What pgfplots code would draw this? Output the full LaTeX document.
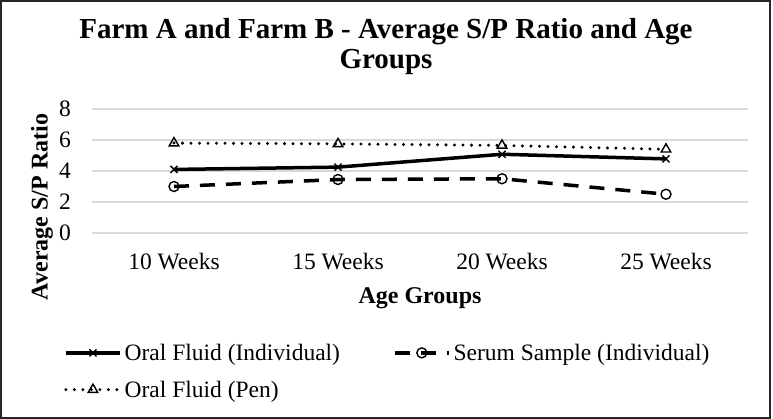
\documentclass[border=0pt]{standalone}
\usepackage{fontspec}
\setmainfont{Liberation Serif}
\usepackage{pgfplots}
\pgfplotsset{compat=1.18}
\begin{document}
\begin{tikzpicture}[x=1pt,y=1pt]
  \useasboundingbox (0,0) rectangle (773,419);
  % outer frame of the chart
  \draw[line width=1.5pt, black!85] (1,1) rectangle (770,418);
  \node[font=\bfseries\fontsize{29}{30}\selectfont, anchor=base] at (386,380)
    {Farm A and Farm B - Average S/P Ratio and Age};
  \node[font=\bfseries\fontsize{29}{30}\selectfont, anchor=base] at (386,350) {Groups};
  \begin{axis}[
    at={(92pt,186pt)},
    anchor=south west,
    scale only axis,
    width=656pt,
    height=124pt,
    xmin=-0.5, xmax=3.5,
    ymin=0, ymax=8,
    ytick={0,2,4,6,8},
    xtick={0,1,2,3},
    xticklabels={10 Weeks,15 Weeks,20 Weeks,25 Weeks},
    ymajorgrids,
    grid style={line width=1.3pt, black!15},
    axis line style={draw=none},
    major tick style={draw=none},
    tick label style={font=\fontsize{23.5}{26}\selectfont},
    /pgf/number format/assume math mode=true,
    yticklabel style={anchor=center, xshift=-27pt},
    xticklabel style={anchor=center, yshift=-29pt},
    xlabel={Age Groups},
    ylabel={Average S/P Ratio},
    label style={font=\bfseries\fontsize{24}{26}\selectfont},
    xlabel style={at={(axis description cs:0.5,-0.524)}, anchor=center},
    ylabel style={at={(axis description cs:-0.0762,0.21)}, anchor=center, rotate=0},
    clip=false,
    legend columns=2,
    legend cell align=left,
    legend style={draw=none, fill=none, inner sep=0pt,
      at={(axis description cs:-0.0427,-0.885)}, anchor=north west,
      font=\fontsize{23.5}{26}\selectfont,
      nodes={inner sep=1pt},
      /tikz/every odd column/.append style={column sep=2pt},
      /tikz/every even column/.append style={column sep=52pt},
      row sep=17pt},
    legend image code/.code={
      \draw[#1, mark=none] (0pt,0pt) -- (54pt,0pt);
      \draw[#1] plot coordinates {(27pt,0pt)};
    },
  ]
    \addplot[black, line width=3.5pt, mark=x, mark size=5pt,
      mark options={solid, line width=1.4pt}]
      coordinates {(0,4.10) (1,4.25) (2,5.08) (3,4.78)};
    \addlegendentry{Oral Fluid (Individual)}
    \addplot[black, line width=3.5pt, dash pattern=on 15pt off 11pt, mark=o, mark size=5pt,
      mark options={solid, line width=1.4pt, fill=white}]
      coordinates {(0,3.00) (1,3.45) (2,3.50) (3,2.50)};
    \addlegendentry{Serum Sample (Individual)}
    \addplot[black, line width=3.3pt, dash pattern=on 0pt off 8.5pt, line cap=round,
      mark=triangle, mark size=5.5pt,
      mark options={solid, line width=1.4pt, fill=white}]
      coordinates {(0,5.80) (1,5.75) (2,5.65) (3,5.40)};
    \addlegendentry{Oral Fluid (Pen)}
  \end{axis}
\end{tikzpicture}
\end{document}
